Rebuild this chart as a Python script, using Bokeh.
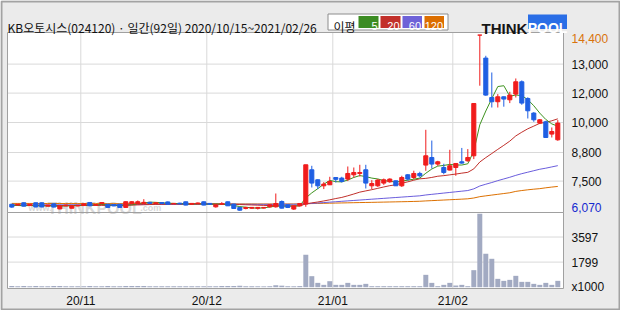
from bokeh.plotting import figure
from bokeh.models import Range1d, ColumnDataSource
from bokeh.embed import file_html
from bokeh.resources import INLINE
from bokeh.core.properties import value

# ---------------- data ----------------
title_text = "KB오토시스(024120) · 일간(92일) 2020/10/15~2021/02/26"

opens = [6380, 6340, 6450, 6320, 6450, 6450, 6290, 6400, 6160, 6300,
         6190, 6300, 6320, 6464, 6330, 6400, 6380, 6360, 6380, 6230,
         6400, 6400, 6420, 6470, 6420, 6460, 6490, 6400, 6430, 6495,
         6380, 6400, 6495, 6420, 6258, 6380, 6495, 6388, 6227, 6180,
         6190, 6190, 6200, 6258, 6258, 6511, 6353, 6151, 6306, 6388,
         8014, 7540, 7255, 7303, 7649, 7620, 7573, 7777, 7840, 8014,
         7255, 7255, 7383, 7445, 7492, 7255, 7777, 7649, 7840, 8236,
         8597, 8284, 8123, 8000, 8123, 8393, 8440, 8678, 14400, 13310,
         11442, 11240, 11475, 11333, 11603, 12186, 11395, 10702, 10228, 10290,
         9706, 9436]
highs = [6400, 6400, 6470, 6400, 6460, 6470, 6360, 6420, 6320, 6360,
         6330, 6350, 6420, 6480, 6390, 6480, 6400, 6380, 6400, 6520,
         6530, 6560, 6620, 6490, 6470, 6480, 6510, 6440, 6450, 6510,
         6440, 6460, 6510, 6440, 6370, 6480, 6510, 6400, 6240, 6260,
         6250, 6250, 6240, 6380, 6890, 6560, 6370, 6320, 6440, 8251,
         8203, 7560, 7430, 7682, 7660, 7682, 8170, 8123, 8251, 8251,
         7526, 7570, 7600, 7610, 7500, 7730, 7810, 7970, 7920, 9910,
         9400, 8440, 8300, 8962, 8330, 9050, 8995, 11157, 14400, 13419,
         12627, 11603, 11490, 11712, 12343, 12250, 11450, 10750, 10420, 10337,
         10020, 10370]
lows = [6210, 6320, 6280, 6300, 6240, 6240, 6280, 6230, 6140, 6290,
        6180, 6290, 6310, 6290, 6320, 6390, 6220, 6290, 6220, 6220,
        6390, 6390, 6400, 6400, 6400, 6400, 6370, 6390, 6380, 6330,
        6370, 6390, 6330, 6370, 6220, 6370, 6300, 6170, 6070, 6140,
        6170, 6130, 6180, 6220, 6220, 6180, 6200, 6110, 6280, 6260,
        7175, 7099, 7099, 7290, 7412, 7412, 7480, 7649, 7697, 7128,
        7099, 7200, 7300, 7400, 7255, 7200, 7500, 7573, 7650, 7966,
        8075, 8200, 7800, 7980, 7730, 8300, 8400, 8521, 12000, 11522,
        10967, 10967, 11005, 11176, 11442, 11096, 10446, 10290, 10180, 9545,
        9545, 9389]
closes = [6246, 6380, 6290, 6380, 6250, 6250, 6340, 6246, 6300, 6340,
          6310, 6330, 6400, 6307, 6370, 6460, 6230, 6300, 6230, 6500,
          6500, 6500, 6470, 6420, 6450, 6420, 6380, 6420, 6400, 6340,
          6420, 6440, 6340, 6380, 6353, 6400, 6306, 6180, 6100, 6227,
          6230, 6230, 6230, 6353, 6416, 6196, 6227, 6306, 6416, 8251,
          7383, 7255, 7336, 7459, 7560, 7459, 7840, 7886, 7886, 7383,
          7364, 7526, 7540, 7573, 7255, 7649, 7573, 7840, 7730, 8678,
          8284, 8393, 7886, 8203, 8313, 8330, 8597, 11157, 14400, 11555,
          11240, 11475, 11366, 11555, 12186, 11176, 10811, 10384, 10384, 9545,
          9830, 10228]
volumes = [80, 60, 90, 70, 85, 75, 60, 80, 95, 65,
           70, 60, 75, 85, 60, 70, 80, 75, 65, 90,
           85, 95, 80, 70, 65, 60, 75, 70, 60, 65,
           70, 60, 75, 65, 70, 80, 85, 90, 110, 70,
           60, 65, 60, 70, 140, 110, 70, 65, 80, 2325,
           791, 311, 168, 431, 168, 168, 311, 168, 168, 240,
           72, 72, 72, 72, 72, 72, 72, 72, 72, 887,
           311, 72, 168, 311, 120, 168, 72, 1222, 5273, 2396,
           2037, 599, 455, 527, 815, 383, 383, 240, 168, 311,
           168, 455]
ma5 = [6330, 6320, 6310, 6320, 6310, 6310, 6300, 6290, 6280, 6300,
       6310, 6320, 6340, 6340, 6340, 6370, 6350, 6330, 6320, 6340,
       6350, 6410, 6440, 6480, 6470, 6450, 6430, 6420, 6410, 6390,
       6390, 6400, 6390, 6380, 6390, 6380, 6360, 6320, 6270, 6240,
       6210, 6190, 6210, 6250, 6290, 6290, 6290, 6300, 6310, 6680,
       6920, 7120, 7330, 7510, 7450, 7440, 7530, 7650, 7740, 7690,
       7620, 7580, 7500, 7470, 7430, 7480, 7520, 7570, 7620, 7850,
       8050, 8190, 8220, 8270, 8240, 8240, 8300, 8900, 10150, 10800,
       11390, 11960, 12000, 11500, 11560, 11530, 11340, 11050, 10700, 10400,
       10190, 10080]
ma20 = [6340, 6338, 6335, 6333, 6330, 6328, 6325, 6322, 6320, 6318,
        6316, 6318, 6320, 6322, 6325, 6326, 6324, 6322, 6320, 6330,
        6340, 6350, 6358, 6366, 6372, 6378, 6384, 6388, 6390, 6392,
        6394, 6396, 6398, 6396, 6392, 6388, 6384, 6376, 6366, 6356,
        6346, 6336, 6326, 6318, 6314, 6308, 6302, 6300, 6302, 6398,
        6446, 6487, 6537, 6591, 6651, 6704, 6781, 6866, 6955, 7013,
        7070, 7135, 7200, 7261, 7303, 7376, 7443, 7520, 7586, 7607,
        7652, 7709, 7737, 7774, 7812, 7855, 7893, 8057, 8383, 8592,
        8786, 8983, 9174, 9373, 9620, 9796, 9958, 10085, 10218, 10261,
        10338, 10430]
ma60 = [6345, 6346, 6347, 6348, 6349, 6350, 6351, 6352, 6352, 6353,
        6354, 6355, 6356, 6357, 6358, 6359, 6360, 6361, 6362, 6363,
        6364, 6365, 6366, 6367, 6368, 6369, 6370, 6371, 6372, 6373,
        6374, 6375, 6376, 6377, 6378, 6379, 6380, 6380, 6380, 6379,
        6378, 6377, 6376, 6376, 6377, 6378, 6379, 6380, 6385, 6400,
        6420, 6440, 6460, 6480, 6500, 6520, 6540, 6560, 6580, 6600,
        6620, 6640, 6660, 6680, 6700, 6720, 6740, 6760, 6780, 6820,
        6850, 6880, 6910, 6940, 6970, 7000, 7030, 7110, 7245, 7330,
        7410, 7500, 7580, 7660, 7750, 7830, 7900, 7970, 8040, 8090,
        8150, 8210]
ma120 = [6420, 6419, 6418, 6418, 6417, 6416, 6416, 6415, 6414, 6414,
         6413, 6412, 6412, 6411, 6410, 6410, 6409, 6408, 6408, 6407,
         6406, 6406, 6405, 6404, 6404, 6403, 6402, 6402, 6401, 6400,
         6400, 6399, 6399, 6398, 6398, 6397, 6397, 6396, 6396, 6395,
         6395, 6394, 6394, 6394, 6394, 6394, 6394, 6394, 6395, 6405,
         6412, 6418, 6424, 6430, 6436, 6442, 6448, 6454, 6460, 6465,
         6470, 6476, 6482, 6488, 6494, 6500, 6506, 6514, 6522, 6538,
         6552, 6566, 6580, 6594, 6608, 6622, 6638, 6676, 6740, 6778,
         6815, 6852, 6888, 6925, 6990, 7030, 7065, 7095, 7120, 7160,
         7195, 7225]

month_start_idx = [12, 33, 54, 74]
month_labels = ["20/11", "20/12", "21/01", "21/02"]
price_grid_vals = [13025, 11650, 10256, 8834, 7478]
price_grid_labels = ["13,000", "12,000", "10,000", "8,800", "7,500"]
price_max, price_min = 14400, 6070
price_max_label, price_min_label = "14,400", "6,070"
vol_ticks = [0, 1799, 3597]
vol_tick_labels = ["x1000", "1799", "3597"]
ma_names = ["5", "20", "60", "120"]

# ---------------- layout / style ----------------
W, H = 620, 310
L, R = 7, 563                 # panel left / right edge (px)
P_TOP, P_BOT = 32, 212        # price panel
V_TOP, V_BOT = 212, 288       # volume panel
P_LO, P_HI = 5989, 14523      # price value range of the panel
V_LO, V_HI = -93, 5357        # volume value range of the panel
PX_PER_BAR = 6.0
x_start = -0.717
x_end = x_start + (R - L) / PX_PER_BAR

BG = "#ebebeb"
FRAME = "#a0a0a0"
GRID = "#d9d9d9"
UP = "#f01c1c"
DOWN = "#1f5fe3"
VOLC = "#a2aac2"
MA_COLORS = ["#3e921f", "#c0302b", "#6a5ddc", "#dc7000"]
LEG_COLORS = ["#3c8c23", "#c2302b", "#6e62d8", "#dc6e00"]
NUM_FONT = value("Liberation Sans")
KR_FONT = value("Noto Sans CJK KR")
TXT = "#111111"

n = len(closes)
idx = list(range(n))
src = ColumnDataSource(dict(
    x=idx, o=opens, h=highs, l=lows, c=closes,
    top=[max(a, b) for a, b in zip(opens, closes)],
    bot=[min(a, b) for a, b in zip(opens, closes)],
    color=[UP if c >= o else DOWN for o, c in zip(opens, closes)],
    vol=volumes,
))
month_grid = [i - 0.5 for i in month_start_idx]

# ranges: the frame is the whole page; panels are mapped by extra ranges
x_lo = x_start - L / PX_PER_BAR
x_hi = x_lo + W / PX_PER_BAR
kp = (P_HI - P_LO) / (P_BOT - P_TOP)
kv = (V_HI - V_LO) / (V_BOT - V_TOP)
price_rng = Range1d(P_LO - (H - P_BOT) * kp, P_HI + P_TOP * kp)
vol_rng = Range1d(V_LO - (H - V_BOT) * kv, V_HI + V_TOP * kv)

p = figure(width=W, height=H, x_range=Range1d(x_lo, x_hi), y_range=Range1d(H, 0),
           toolbar_location=None, output_backend="svg", min_border=0,
           x_axis_location=None, y_axis_location=None, outline_line_color=None,
           background_fill_color=BG, border_fill_color=BG)
p.extra_x_ranges = {"px": Range1d(0, W)}
p.extra_y_ranges = {"price": price_rng, "vol": vol_rng}
p.grid.visible = False

# panel backgrounds
p.quad(left=[L, L], right=[R, R], top=[P_TOP, V_TOP], bottom=[P_BOT, V_BOT],
       x_range_name="px", fill_color="white", line_color=None)

# grid lines
ng = len(price_grid_vals)
p.segment(x0=[x_start] * ng, x1=[x_end] * ng, y0=price_grid_vals, y1=price_grid_vals,
          y_range_name="price", line_color=GRID, line_width=1)
nm = len(month_grid)
p.segment(x0=month_grid, x1=month_grid, y0=[P_LO] * nm, y1=[P_HI] * nm,
          y_range_name="price", line_color=GRID, line_width=1)
vg = vol_ticks[1:]
p.segment(x0=[x_start] * len(vg), x1=[x_end] * len(vg), y0=vg, y1=vg,
          y_range_name="vol", line_color=GRID, line_width=1)
p.segment(x0=month_grid, x1=month_grid, y0=[V_LO] * nm, y1=[V_HI] * nm,
          y_range_name="vol", line_color=GRID, line_width=1)

# watermark
p.text(x=[2.8, 5.95, 21.4], y=[6179] * 3, text=["www.", "THINKPOOL", ".com"],
       y_range_name="price", text_font=NUM_FONT, text_font_style="bold",
       text_font_size=["9px", "16px", "9px"], text_color="#d8d8d8",
       text_baseline="alphabetic")

# moving averages
for ma, col in zip([ma120, ma60, ma20, ma5], MA_COLORS[::-1]):
    p.line(idx, ma, y_range_name="price", line_color=col, line_width=1)

# candles
p.segment(x0="x", y0="h", x1="x", y1="l", y_range_name="price",
          line_color="color", line_width=1, source=src)
p.vbar(x="x", top="top", bottom="bot", width=0.68, y_range_name="price",
       fill_color="color", line_color="color", line_width=1, source=src)

# volume
p.vbar(x="x", top="vol", bottom=0, width=0.83, y_range_name="vol",
       fill_color=VOLC, line_color=None, source=src)

# panel outlines
p.quad(left=[L, L], right=[R, R], top=[P_TOP, V_TOP], bottom=[P_BOT, V_BOT],
       x_range_name="px", fill_color=None, line_color=FRAME, line_width=1)

# right-hand tick labels
p.text(x=[x_end] * ng, y=price_grid_vals, text=price_grid_labels, x_offset=8,
       y_range_name="price", text_font=NUM_FONT, text_font_size="12px",
       text_color=TXT, text_baseline="middle")
p.text(x=[x_end], y=[price_max], text=[price_max_label], x_offset=8, y_offset=3.5,
       y_range_name="price", text_font=NUM_FONT, text_font_size="12px",
       text_color="#d9730d", text_baseline="middle")
p.text(x=[x_end], y=[price_min], text=[price_min_label], x_offset=8, y_offset=-3.5,
       y_range_name="price", text_font=NUM_FONT, text_font_size="12px",
       text_color="#1428d0", text_baseline="middle")
p.text(x=[x_end] * len(vol_ticks), y=vol_ticks, text=vol_tick_labels, x_offset=8,
       y_range_name="vol", text_font=NUM_FONT, text_font_size="12px",
       text_color=TXT, text_baseline="middle")
# month labels under the volume panel
p.text(x=month_grid, y=[V_BOT + 12.5] * nm, text=month_labels,
       text_font=NUM_FONT, text_font_size="12px", text_color=TXT,
       text_align="center", text_baseline="middle")

# header: title, MA legend, logo
p.text(x=[7], y=[26.5], text=[title_text], x_range_name="px", text_font=KR_FONT,
       text_font_size="12px", text_color=TXT, text_baseline="alphabetic")
p.quad(left=[327.5], right=[447.5], top=[13.5], bottom=[29.5], x_range_name="px",
       fill_color="white", line_color="#8c8c8c", line_width=1)
p.text(x=[333], y=[26], text=["이평"], x_range_name="px", text_font=KR_FONT,
       text_font_size="12px", text_color=TXT, text_baseline="alphabetic")
box_l = [358, 380, 402, 424]
box_r = [378, 400, 421.5, 443.5]
p.quad(left=box_l, right=box_r, top=[15.5] * 4, bottom=[27.5] * 4, x_range_name="px",
       fill_color=LEG_COLORS, line_color=None)
p.text(x=[r - 1 for r in box_r], y=[25.8] * 4, text=ma_names, x_range_name="px",
       text_font=NUM_FONT, text_font_size="11px", text_color="white",
       text_align="right", text_baseline="alphabetic")
p.text(x=[481], y=[28], text=["THINK"], x_range_name="px", text_font=NUM_FONT,
       text_font_style="bold", text_font_size="15px", text_color="#151515",
       text_baseline="alphabetic")
p.quad(left=[527.5], right=[566.5], top=[14], bottom=[28.5], x_range_name="px",
       fill_color="#2a6ee6", line_color=None)
p.text(x=[547], y=[27.5], text=["POOL"], x_range_name="px", text_font=NUM_FONT,
       text_font_style="bold", text_font_size="14px", text_color="white",
       text_align="center", text_baseline="alphabetic")

# outer border of the page
p.quad(left=[1], right=[W - 1], top=[1], bottom=[H - 1], x_range_name="px",
       fill_color=None, line_color="#a3a3a3", line_width=2)

open("out.html", "w").write(file_html(p, INLINE))
